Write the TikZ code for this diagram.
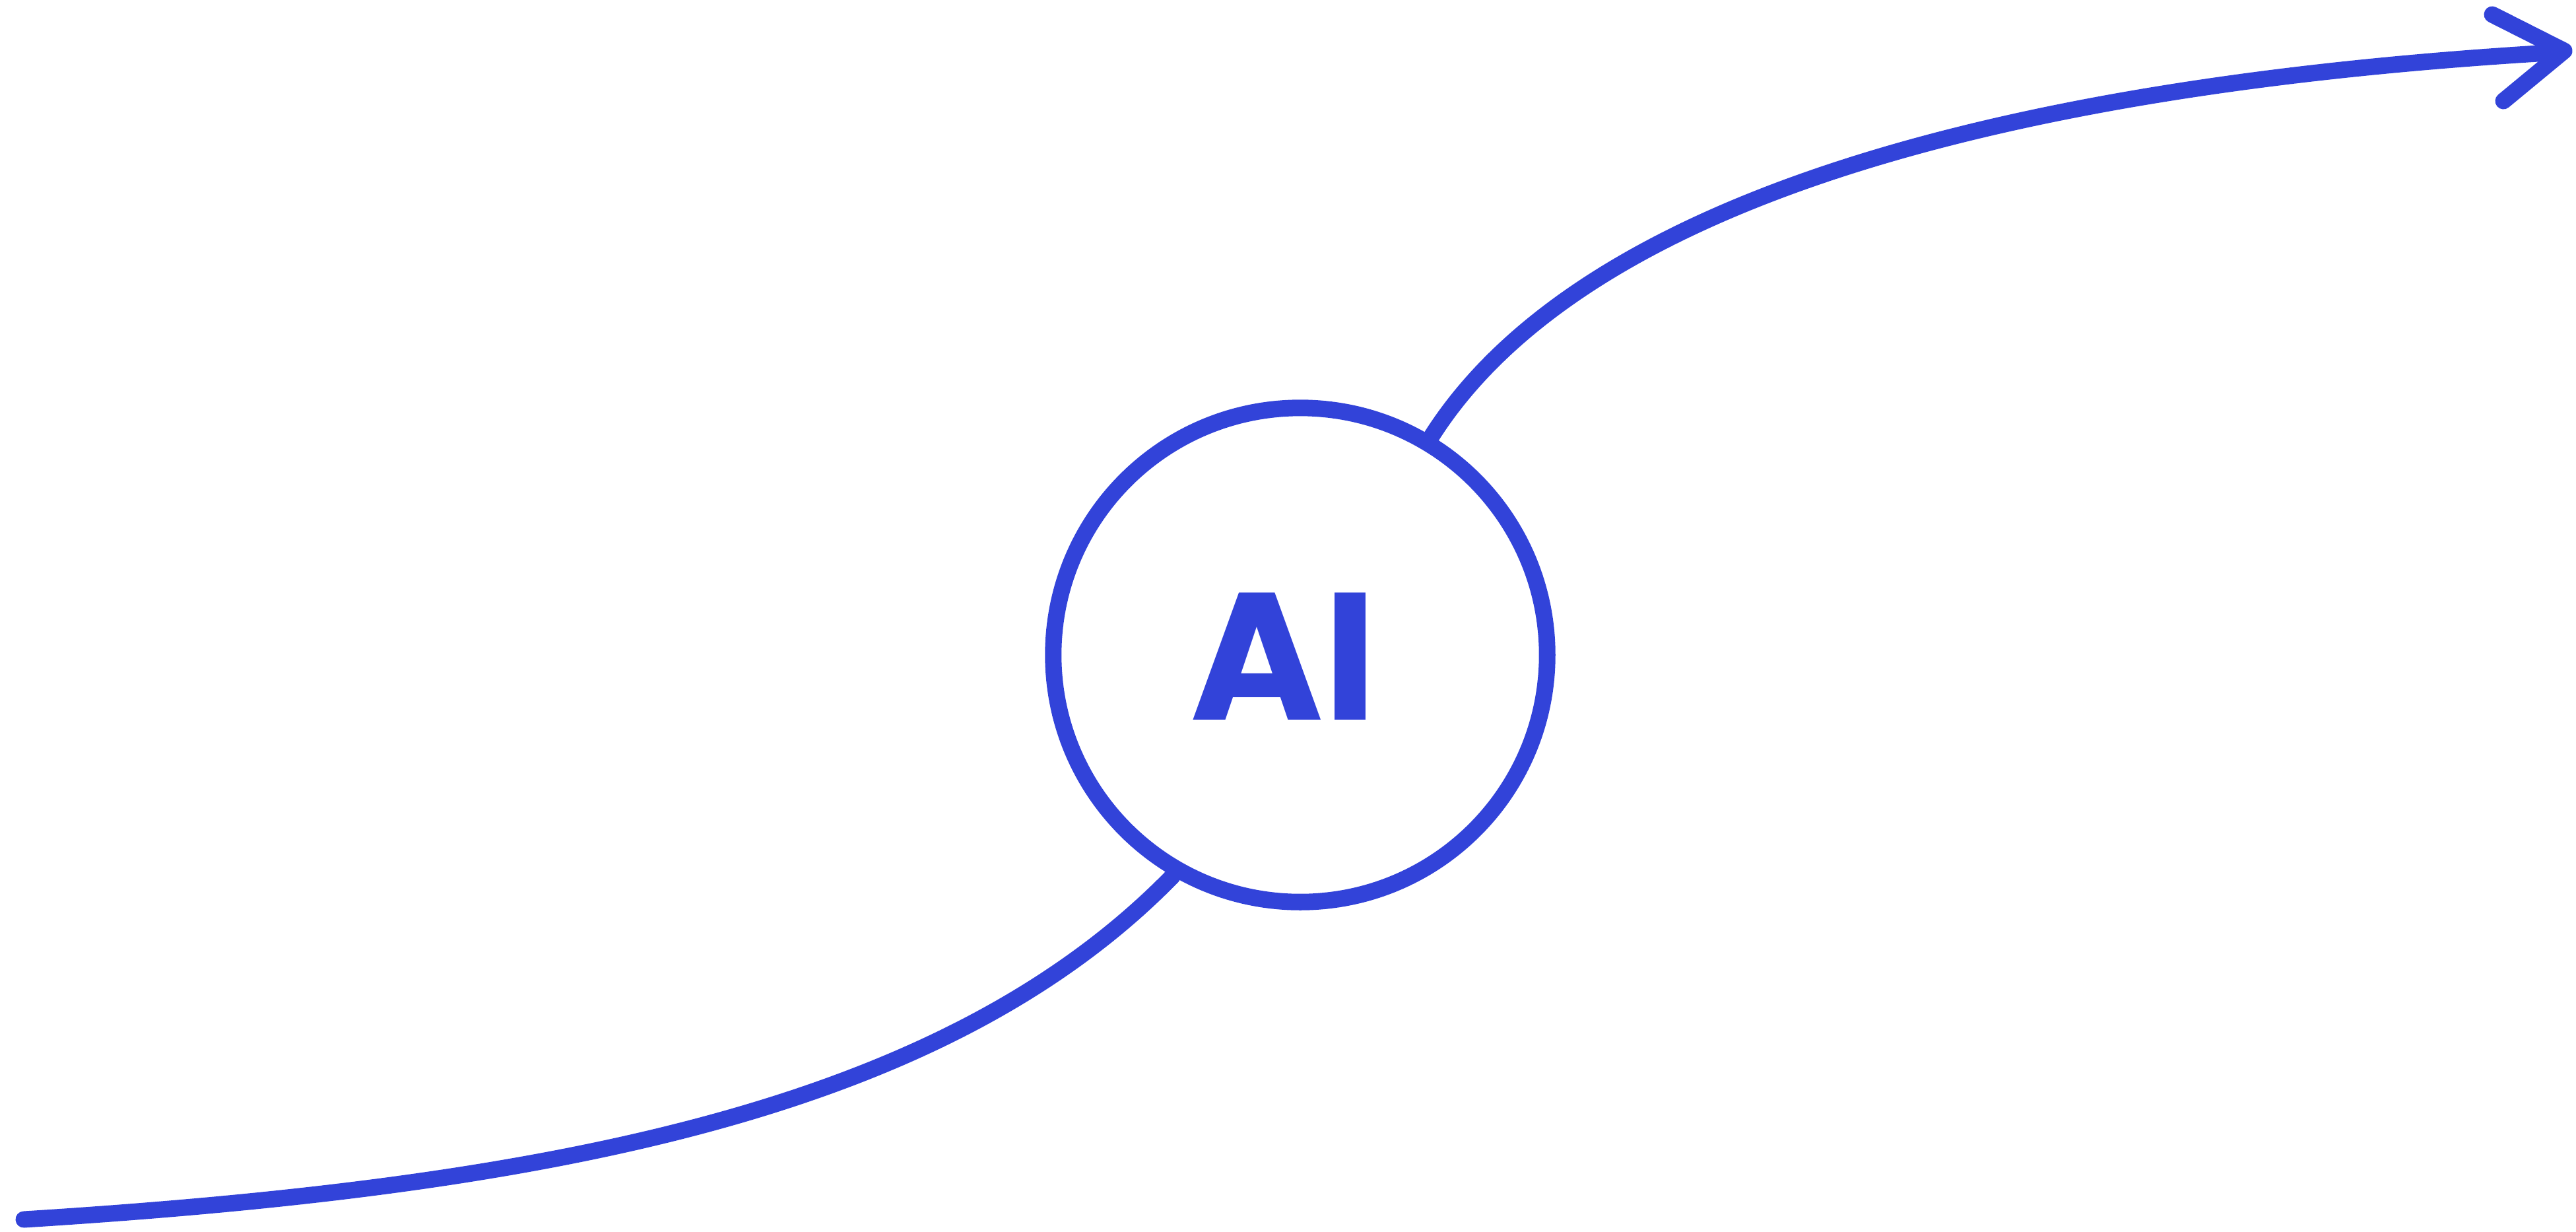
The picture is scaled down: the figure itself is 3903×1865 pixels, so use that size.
\documentclass[tikz,border=0pt]{standalone}
\usepackage{fontspec}
\setmainfont{Poppins}[BoldFont={* Bold}]
\definecolor{chalk}{RGB}{50,67,217}
\tikzset{
  chalkline/.style={draw=chalk, line width=0.25cm, line cap=round, line join=round},
}
\begin{document}
\begin{tikzpicture}[x=0.01cm, y=-0.01cm]
\useasboundingbox (0,0) rectangle (3903,1865);
\node[circle, minimum size=7.48cm, inner sep=0pt, chalkline] (c) at (1970,992) {};
\node[anchor=base, text=chalk, inner sep=0pt, font=\fontsize{78}{80}\selectfont\bfseries] (t) at (1945,1090) {AI};
\coordinate (s) at (36,1847);
\coordinate (e) at (3862,80);
\coordinate (h1) at (3776,22);
\coordinate (ht) at (3885,77);
\coordinate (h2) at (3793,153);
\draw[chalkline] (s) .. controls (836,1797) and (1431,1681) .. (c.240);
\draw[chalkline] (c.59) .. controls (2380,329) and (2962,134) .. (e);
\draw[chalkline] (h1) -- (ht) -- (h2);
\end{tikzpicture}
\end{document}
